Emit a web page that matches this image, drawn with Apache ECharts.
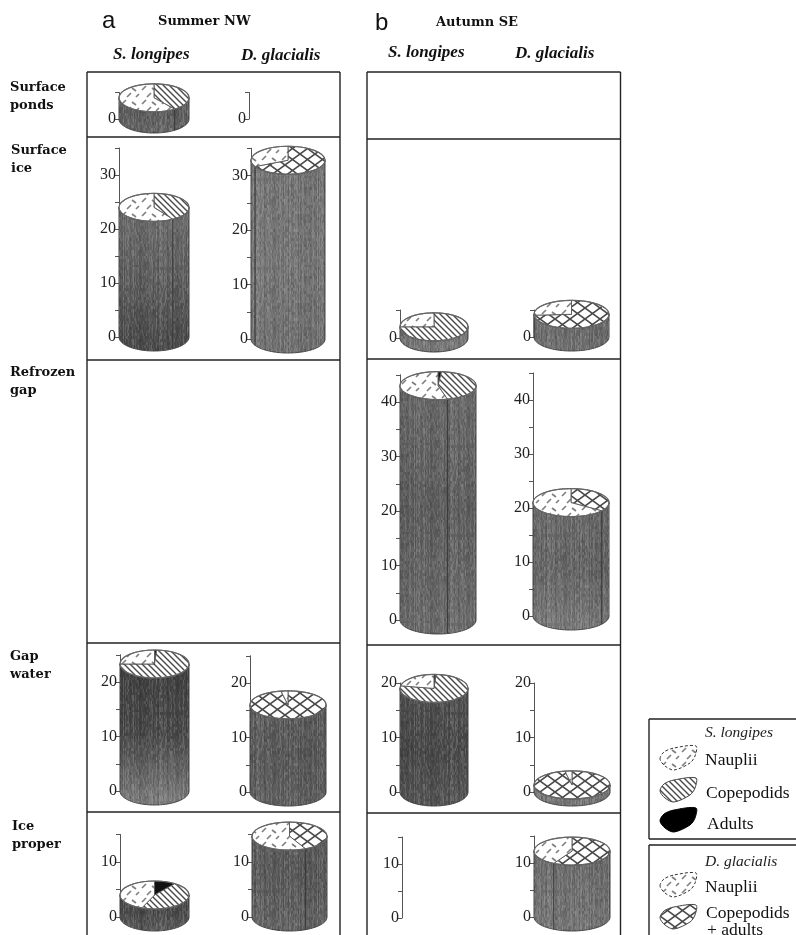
<!DOCTYPE html>
<html>
<head>
<meta charset="utf-8">
<title>Summer NW / Autumn SE</title>
<script src="https://cdn.jsdelivr.net/npm/echarts@6/dist/echarts.min.js"></script>
<style>
html, body { margin: 0; padding: 0; background: #fff; }
#main { width: 796px; height: 935px; filter: blur(0.5px); }
</style>
</head>
<body>
<div id="main"></div>
<script>
var habitats = ['Surface\nponds', 'Surface\nice', 'Refrozen\ngap', 'Gap\nwater', 'Ice\nproper'];
var tickLabelStep = 10;

// axis tops (null = no axis in that cell), order follows habitats
var axisMaxSummerS = [5, 35, null, 25, 15];
var axisMaxSummerD = [5, 35, null, 25, 15];
var axisMaxAutumnS = [null, 5, 45, 20, 15];
var axisMaxAutumnD = [null, 5, 45, 20, 15];

// cylinder heights
var heightSummerS = [4, 24, null, 23.3, 4];
var heightSummerD = [null, 32.8, null, 16, 14.7];
var heightAutumnS = [null, 2, 43, 19, null];
var heightAutumnD = [null, 4.2, 21, 1.3, 12.2];

// percentages on the lid, clockwise from 12 o'clock: adults, copepodids, nauplii
var adultsSummerS = [0, 0, null, 1, 10];
var copepSummerS = [40, 41, null, 74, 46];
var naupSummerS = [60, 59, null, 25, 44];
var copepSummerD = [null, 67.5, null, 97, 43];
var naupSummerD = [null, 32.5, null, 3, 57];
var adultsAutumnS = [null, 0, 1.5, 1, null];
var copepAutumnS = [null, 75, 44.5, 77, null];
var naupAutumnS = [null, 25, 54, 22, null];
var copepAutumnD = [null, 74, 35, 97, 58];
var naupAutumnD = [null, 26, 65, 3, 42];

// layout of each cell: pixel x of axis, width of cylinder, y of zero, px per unit
var layoutSummerS = [[119, 70, 119, 5.3], [119, 70, 337, 5.4], null, [120, 69, 791, 5.45], [120, 69, 917, 5.5]];
var layoutSummerD = [[249, 70, 119, 5.3], [251, 74, 339, 5.45], null, [250, 76, 792, 5.45], [252, 75, 917, 5.5]];
var layoutAutumnS = [null, [400, 68, 338, 5.6], [400, 76, 620, 5.45], [400, 68, 792, 5.45], [402, 70, 918, 5.4]];
var layoutAutumnD = [null, [534, 75, 337, 5.4], [533, 76, 616, 5.4], [534, 76, 792, 5.45], [534, 76, 917, 5.4]];

// body shading top/middle/bottom
var shadeSummerS = [['#666', '#5c5c5c', '#666'], ['#6e6e6e', '#5e5e5e', '#484848'], null, ['#3f3f3f', '#484848', '#808080'], ['#494949', '#4a4a4a', '#5a5a5a']];
var shadeSummerD = [null, ['#747474', '#767676', '#707070'], null, ['#5c5c5c', '#585858', '#606060'], ['#5a5a5a', '#5a5a5a', '#646464']];
var shadeAutumnS = [null, ['#777', '#777', '#777'], ['#6a6a6a', '#5e5e5e', '#6c6c6c'], ['#505050', '#484848', '#555'], null];
var shadeAutumnD = [null, ['#6c6c6c', '#6c6c6c', '#707070'], ['#6a6a6a', '#646464', '#7a7a7a'], ['#777', '#777', '#777'], ['#6c6c6c', '#707070', '#757575']];

var lidRy = 14;

function makeCanvas(w, h, draw) {
    var c = document.createElement('canvas');
    c.width = w;
    c.height = h;
    draw(c.getContext('2d'), w, h);
    return { image: c, repeat: 'repeat' };
}

var hatchFill = makeCanvas(6, 6, function (g, w, h) {
    g.fillStyle = '#fff';
    g.fillRect(0, 0, w, h);
    g.strokeStyle = '#4a4a4a';
    g.lineWidth = 1.4;
    g.beginPath();
    g.moveTo(-1, -1); g.lineTo(7, 7);
    g.moveTo(-4, 2); g.lineTo(2, 8);
    g.moveTo(2, -4); g.lineTo(8, 2);
    g.stroke();
});
var crossFill = makeCanvas(15, 11, function (g, w, h) {
    g.fillStyle = '#fff';
    g.fillRect(0, 0, w, h);
    g.strokeStyle = '#4a4a4a';
    g.lineWidth = 1.6;
    g.beginPath();
    g.moveTo(0, 0); g.lineTo(w, h);
    g.moveTo(w, 0); g.lineTo(0, h);
    g.stroke();
});
var naupFill = makeCanvas(20, 14, function (g, w, h) {
    g.fillStyle = '#fff';
    g.fillRect(0, 0, w, h);
    g.strokeStyle = '#808080';
    g.lineWidth = 1.7;
    g.beginPath();
    g.moveTo(2, 6); g.lineTo(6, 2);
    g.moveTo(12, 4); g.lineTo(16, 7);
    g.moveTo(7, 13); g.lineTo(11, 9);
    g.moveTo(16, 13); g.lineTo(19, 10);
    g.stroke();
});
var grainFill = makeCanvas(97, 89, function (g, w, h) {
    // fixed grain, a sine hash so every run gives the same texture
    function hash(a, b) {
        var s = Math.sin(a * 12.9898 + b * 78.233) * 43758.5453;
        return s - Math.floor(s);
    }
    for (var x = 0; x < w; x++) {
        var col = hash(x, 3) - 0.5;
        for (var y = 0; y < h; y++) {
            var v = col * 0.6 + (hash(x, Math.floor(y / 3)) - 0.5) * 0.8;
            g.fillStyle = v > 0 ? 'rgba(255,255,255,' + (v * 0.28) + ')' : 'rgba(0,0,0,' + (-v * 0.3) + ')';
            g.fillRect(x, y, 1, 1);
        }
    }
});

function arcPoints(cx, cy, rx, ry, from, to) {
    var pts = [];
    var n = Math.max(2, Math.ceil(Math.abs(to - from) / 4));
    for (var i = 0; i <= n; i++) {
        var t = (from + (to - from) * i / n) * Math.PI / 180;
        pts.push([cx + rx * Math.sin(t), cy - ry * Math.cos(t)]);
    }
    return pts;
}

function renderCylinder(params, api) {
    var top = api.coord([0.5, api.value(1)]);
    var base = api.coord([0.5, 0]);
    var rx = (api.coord([1, 0])[0] - api.coord([0, 0])[0]) / 2;
    var cx = top[0], cyTop = top[1], cyBase = base[1];
    var info = cellInfo[params.seriesId];
    var kids = [];

    var body = arcPoints(cx, cyTop, rx, lidRy, 90, 270).concat(arcPoints(cx, cyBase, rx, lidRy, 270, 90));
    kids.push({
        type: 'polygon',
        shape: { points: body },
        style: {
            fill: {
                type: 'linear', x: 0, y: 0, x2: 0, y2: 1,
                colorStops: [
                    { offset: 0, color: info.shade[0] },
                    { offset: 0.5, color: info.shade[1] },
                    { offset: 1, color: info.shade[2] }
                ]
            },
            stroke: '#444',
            lineWidth: 1
        }
    });
    kids.push({ type: 'polygon', shape: { points: body }, style: { fill: grainFill, stroke: null } });

    // lid wedges
    var angle = 0;
    var parts = [
        { v: api.value(2), fill: '#111' },
        { v: api.value(3), fill: info.copepFill },
        { v: api.value(4), fill: naupFill }
    ];
    var lidKids = [];
    parts.forEach(function (p) {
        if (!p.v) return;
        var next = angle + p.v * 3.6;
        var wedge = [[cx, cyTop]].concat(arcPoints(cx, cyTop, rx, lidRy, angle, next));
        lidKids.push({
            type: 'polygon',
            shape: { points: wedge },
            style: { fill: p.fill, stroke: '#555', lineWidth: 0.9 }
        });
        // seam runs down the body when the wedge edge lands on the front half
        if (angle > 90 && angle < 270) {
            var sx = cx + rx * Math.sin(angle * Math.PI / 180);
            var s1 = cyTop - lidRy * Math.cos(angle * Math.PI / 180);
            var s2 = cyBase - lidRy * Math.cos(angle * Math.PI / 180);
            kids.push({
                type: 'line',
                shape: { x1: sx, y1: s1, x2: sx, y2: s2 },
                style: { stroke: '#3a3a3a', lineWidth: 1 }
            });
        }
        angle = next;
    });
    kids = kids.concat(lidKids);
    kids.push({
        type: 'ellipse',
        shape: { cx: cx, cy: cyTop, rx: rx, ry: lidRy },
        style: { fill: null, stroke: '#666', lineWidth: 1.2 }
    });
    return { type: 'group', children: kids };
}

var grids = [], xAxes = [], yAxes = [], series = [], cellInfo = {};

function addColumn(name, axisMax, layout, heights, adults, copep, naup, shade, copepFill) {
    habitats.forEach(function (h, i) {
        if (axisMax[i] == null || !layout[i]) return;
        var l = layout[i];
        var idx = grids.length;
        grids.push({
            left: l[0],
            width: l[1],
            top: l[2] - axisMax[i] * l[3],
            height: axisMax[i] * l[3],
            containLabel: false
        });
        xAxes.push({ type: 'value', gridIndex: idx, min: 0, max: 1, show: false });
        yAxes.push({
            type: 'value',
            gridIndex: idx,
            min: 0,
            max: axisMax[i],
            interval: 5,
            splitLine: { show: false },
            axisLine: { show: true, onZero: false, lineStyle: { color: '#555', width: 1 } },
            axisTick: { show: true, length: 4, lineStyle: { color: '#555', width: 1 } },
            axisLabel: {
                margin: 3,
                color: '#222',
                fontFamily: 'Liberation Serif',
                fontSize: 16,
                formatter: function (v) { return v % tickLabelStep === 0 ? String(v) : ''; }
            }
        });
        if (heights[i] == null) return;
        var id = name + '-' + i;
        cellInfo[id] = { shade: shade[i], copepFill: copepFill };
        series.push({
            id: id,
            type: 'custom',
            xAxisIndex: idx,
            yAxisIndex: idx,
            clip: false,
            silent: true,
            renderItem: renderCylinder,
            data: [[0.5, heights[i], adults ? adults[i] : 0, copep[i], naup[i]]]
        });
    });
}

addColumn('summerS', axisMaxSummerS, layoutSummerS, heightSummerS, adultsSummerS, copepSummerS, naupSummerS, shadeSummerS, hatchFill);
addColumn('summerD', axisMaxSummerD, layoutSummerD, heightSummerD, null, copepSummerD, naupSummerD, shadeSummerD, crossFill);
addColumn('autumnS', axisMaxAutumnS, layoutAutumnS, heightAutumnS, adultsAutumnS, copepAutumnS, naupAutumnS, shadeAutumnS, hatchFill);
addColumn('autumnD', axisMaxAutumnD, layoutAutumnD, heightAutumnD, null, copepAutumnD, naupAutumnD, shadeAutumnD, crossFill);

var graphics = [];

function rule(x1, y1, x2, y2, w) {
    graphics.push({
        type: 'line',
        shape: { x1: x1, y1: y1, x2: x2, y2: y2 },
        style: { stroke: '#222', lineWidth: w || 1.4 },
        silent: true
    });
}

function label(x, y, text, font, fill) {
    graphics.push({
        type: 'text',
        x: x,
        y: y,
        silent: true,
        style: { text: text, font: font, fill: fill || '#111', textVerticalAlign: 'middle', lineHeight: 18 }
    });
}

// table frames, the bottom is open
[87, 340, 367, 620.5].forEach(function (x) { rule(x, 72, x, 935); });
[[87, 340, 72], [87, 340, 137], [87, 340, 360], [87, 340, 643], [87, 340, 812],
 [367, 620.5, 72], [367, 620.5, 139], [367, 620.5, 359], [367, 620.5, 645], [367, 620.5, 813]].forEach(function (r) {
    rule(r[0], r[2], r[1], r[2]);
});

var serifBold = 'bold 13px "DejaVu Serif"';
var rowLabelPos = [[10, 88], [11, 151], [10, 373], [10, 657], [12, 827]];
habitats.forEach(function (h, i) {
    var lines = h.split('\n');
    label(rowLabelPos[i][0], rowLabelPos[i][1], lines[0], serifBold);
    label(rowLabelPos[i][0], rowLabelPos[i][1] + 18, lines[1], serifBold);
});

label(102, 21, 'a', '24px "Liberation Sans"');
label(375, 23, 'b', '24px "Liberation Sans"');
label(158, 22, 'Summer NW', serifBold);
label(436, 23, 'Autumn SE', serifBold);

var speciesFont = 'italic bold 17px "Liberation Serif"';
label(113, 55, 'S. longipes', speciesFont);
label(241, 56, 'D. glacialis', speciesFont);
label(388, 53, 'S. longipes', speciesFont);
label(515, 54, 'D. glacialis', speciesFont);

// legend boxes
rule(649, 719, 796, 719); rule(649, 719, 649, 839); rule(649, 839, 796, 839);
rule(649, 845, 796, 845); rule(649, 845, 649, 935);

function swatch(x, y, fill, stroke) {
    graphics.push({
        type: 'polygon',
        silent: true,
        x: x,
        y: y,
        shape: {
            smooth: 0.3,
            points: [[0, 13], [4, 6], [14, 2], [36, 0], [35, 10], [30, 17], [14, 24], [5, 20]]
        },
        style: { fill: fill, stroke: stroke, lineWidth: 1, lineDash: stroke === '#333' ? [3, 2] : null }
    });
}

var legendFont = '17.5px "Liberation Serif"';
var legendItalic = 'italic 15.5px "Liberation Serif"';
label(705, 733, 'S. longipes', legendItalic, '#222');
swatch(660, 746, naupFill, '#333');
label(705, 760, 'Nauplii', legendFont);
swatch(660, 778, hatchFill, '#444');
label(706, 793, 'Copepodids', legendFont);
swatch(660, 808, '#000', '#000');
label(707, 824, 'Adults', legendFont);
label(705, 862, 'D. glacialis', legendItalic, '#222');
swatch(660, 873, naupFill, '#333');
label(705, 887, 'Nauplii', legendFont);
swatch(660, 905, crossFill, '#444');
label(706, 913, 'Copepodids', legendFont);
label(707, 930, '+ adults', legendFont);

var chart = echarts.init(document.getElementById('main'));
chart.setOption({
    animation: false,
    backgroundColor: '#fff',
    grid: grids,
    xAxis: xAxes,
    yAxis: yAxes,
    series: series,
    graphic: graphics
});
</script>
</body>
</html>
